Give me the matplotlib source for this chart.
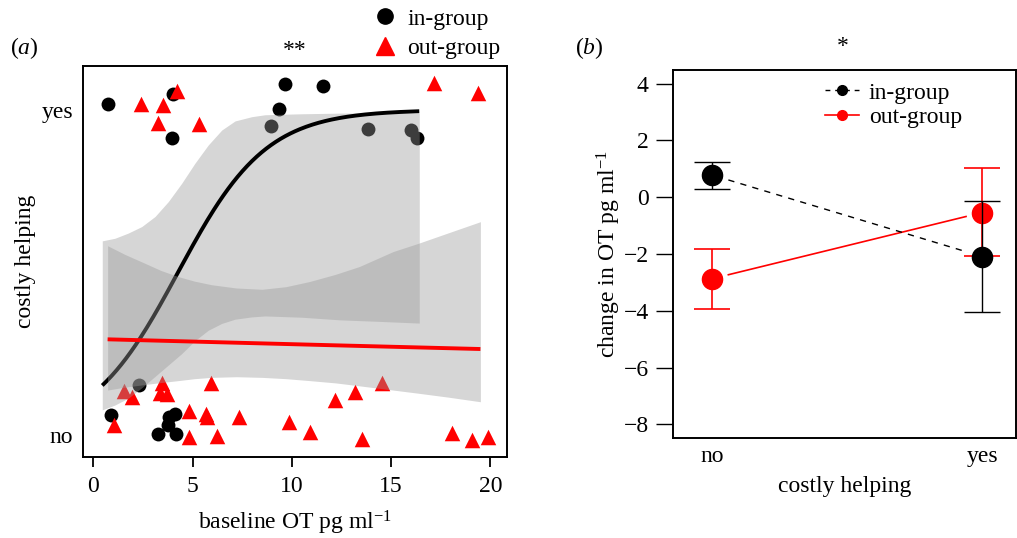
import numpy as np
import matplotlib
matplotlib.use("Agg")
import matplotlib.pyplot as plt
from matplotlib.lines import Line2D

plt.rcParams['font.family'] = ['Liberation Serif', 'DejaVu Serif']
plt.rcParams['mathtext.fontset'] = 'custom'
plt.rcParams['mathtext.rm'] = 'Liberation Serif'
plt.rcParams['mathtext.it'] = 'Liberation Serif:italic'

# ---- panel (a): baseline OT vs costly helping (jittered 0/1) ----
ingroup_ot = [0.73, 4.0, 3.95, 9.67, 11.56, 9.34, 8.95, 13.85, 16.0, 16.29,
              0.89, 2.32, 3.24, 3.76, 3.81, 4.12, 4.17]
ingroup_help = [1.018, 1.048, 0.912, 1.08, 1.072, 1.003, 0.949, 0.941, 0.938, 0.913,
                0.061, 0.153, 0.004, 0.029, 0.055, 0.064, 0.003]
outgroup_ot = [2.42, 3.53, 4.2, 3.27, 5.31, 17.18, 19.38,
               1.02, 1.55, 1.97, 3.44, 3.36, 3.73, 4.8, 4.8, 5.67, 5.71, 5.91, 6.25,
               7.36, 9.84, 10.9, 12.18, 13.18, 14.54, 13.54, 18.07, 19.09, 19.87]
outgroup_help = [1.017, 1.014, 1.058, 0.961, 0.957, 1.084, 1.053,
                 0.031, 0.135, 0.116, 0.159, 0.130, 0.126, 0.072, -0.005, 0.064, 0.056,
                 0.159, -0.003, 0.056, 0.039, 0.010, 0.108, 0.133, 0.161, -0.013,
                 0.005, -0.015, -0.005]

# logistic fits (intercept, slope) and their x ranges
ingroup_coef = (-1.92, 0.45)
ingroup_range = (0.45, 16.42)
outgroup_coef = (-0.870, -0.0079)
outgroup_range = (0.72, 19.5)

# confidence bands
ingroup_band_x = [0.45, 1.09, 1.76, 2.44, 3.11, 3.78, 4.45, 5.12, 5.79, 6.47, 7.14,
                  7.98, 8.65, 10.5, 12.4, 14.5, 16.42]
ingroup_band_hi = [0.597, 0.605, 0.621, 0.641, 0.672, 0.718, 0.774, 0.836, 0.892, 0.938,
                   0.966, 0.979, 0.985, 0.988, 0.99, 0.99, 0.99]
ingroup_band_lo = [0.077, 0.092, 0.113, 0.145, 0.18, 0.215, 0.25, 0.29, 0.322, 0.343,
                   0.356, 0.363, 0.366, 0.362, 0.354, 0.349, 0.344]
outgroup_band_x = [0.72, 1.6, 2.6, 3.4, 4.28, 5.1, 5.96, 7.2, 8.5, 9.7, 10.9, 12.2,
                   13.4, 15.1, 16.4, 17.9, 19.5]
outgroup_band_hi = [0.582, 0.555, 0.528, 0.506, 0.487, 0.473, 0.462, 0.452, 0.448, 0.456,
                    0.472, 0.494, 0.518, 0.564, 0.59, 0.622, 0.656]
outgroup_band_lo = [0.138, 0.147, 0.155, 0.161, 0.167, 0.173, 0.177, 0.179, 0.177, 0.173,
                    0.167, 0.160, 0.151, 0.138, 0.128, 0.116, 0.102]

# ---- panel (b): change in OT by costly helping ----
helping_levels = ['no', 'yes']
ingroup_mean = [0.78, -2.09]
ingroup_upper = [1.25, -0.13]
ingroup_lower = [0.30, -4.05]
outgroup_mean = [-2.87, -0.54]
outgroup_upper = [-1.81, 1.03]
outgroup_lower = [-3.93, -2.07]

W, H = 1017, 538
FS = 17
fig = plt.figure(figsize=(W / 100, H / 100), dpi=100)


def logistic(coef, rng):
    xs = np.linspace(rng[0], rng[1], 200)
    return xs, 1 / (1 + np.exp(-(coef[0] + coef[1] * xs)))


band_col = '#999999'

# panel a
ax_a = fig.add_axes([83 / W, 1 - 457 / H, 424 / W, 391 / H])
ax_a.scatter(ingroup_ot, ingroup_help, s=100, c='black', marker='o', linewidths=0, zorder=2)
ax_a.scatter(outgroup_ot, outgroup_help, s=125, c='red', marker='^', linewidths=0, zorder=2)
ax_a.fill_between(ingroup_band_x, ingroup_band_lo, ingroup_band_hi, color=band_col,
                  alpha=0.4, linewidth=0, zorder=3)
xs, ys = logistic(ingroup_coef, ingroup_range)
ax_a.plot(xs, ys, color='black', lw=2.8, solid_capstyle='butt', zorder=4)
ax_a.fill_between(outgroup_band_x, outgroup_band_lo, outgroup_band_hi, color=band_col,
                  alpha=0.4, linewidth=0, zorder=5)
xs, ys = logistic(outgroup_coef, outgroup_range)
ax_a.plot(xs, ys, color='red', lw=2.8, solid_capstyle='butt', zorder=6)

ax_a.set_xlim(-0.52, 20.84)
ax_a.set_ylim(-0.068, 1.135)
ax_a.set_xticks([0, 5, 10, 15, 20])
ax_a.set_yticks([0, 1])
ax_a.set_yticklabels(helping_levels)
ax_a.tick_params(axis='x', length=7, width=1.3, pad=7, labelsize=FS)
ax_a.tick_params(axis='y', length=0, pad=7, labelsize=FS)
for sp in ax_a.spines.values():
    sp.set_linewidth(1.4)
ax_a.set_xlabel('baseline OT pg ml$^{-1}$', fontsize=FS, labelpad=8)
ax_a.set_ylabel('costly helping', fontsize=FS, labelpad=4)

fig.legend(handles=[Line2D([], [], marker='o', ls='none', color='black', markersize=11),
                    Line2D([], [], marker='^', ls='none', color='red', markersize=13)],
           labels=['in-group', 'out-group'], loc='upper left',
           bbox_to_anchor=(373 / W, 1 - 8 / H), frameon=False, fontsize=FS,
           handlelength=1.0, handletextpad=0.45, labelspacing=0.33,
           borderpad=0, borderaxespad=0)

fig.text(10 / W, 1 - 48 / H, r'($\it{a}$)', fontsize=FS, va='center')
fig.text(295 / W, 1 - 50 / H, '**', fontsize=FS, ha='center', va='center')

# panel b
ax_b = fig.add_axes([673 / W, 1 - 438 / H, 343 / W, 368 / H])
xpos = np.arange(1, len(helping_levels) + 1)


def gapped(ax, x, y, gap, **kw):
    x = np.asarray(x, float)
    y = np.asarray(y, float)
    dx, dy = x[1] - x[0], y[1] - y[0]
    ax.plot([x[0] + gap * dx, x[1] - gap * dx], [y[0] + gap * dy, y[1] - gap * dy], **kw)


out_m = np.array(outgroup_mean)
in_m = np.array(ingroup_mean)
gapped(ax_b, xpos, out_m, 0.06, color='red', lw=1.2, zorder=2)
gapped(ax_b, xpos, in_m, 0.06, color='black', lw=1.0, ls=(0, (4.5, 4.5)), zorder=2)
ax_b.errorbar(xpos, out_m, yerr=[out_m - np.array(outgroup_lower), np.array(outgroup_upper) - out_m],
              fmt='none', ecolor='red', elinewidth=1.2, capsize=13, capthick=1.2, zorder=3)
ax_b.plot(xpos, out_m, 'o', color='red', ms=14.5, zorder=4)
ax_b.errorbar(xpos, in_m, yerr=[in_m - np.array(ingroup_lower), np.array(ingroup_upper) - in_m],
              fmt='none', ecolor='black', elinewidth=1.0, capsize=13, capthick=1.0, zorder=5)
ax_b.plot(xpos, in_m, 'o', color='black', ms=14.5, zorder=6)

ax_b.set_xlim(0.855, 2.125)
ax_b.set_ylim(-8.48, 4.48)
ax_b.set_yticks(np.arange(-8, 5, 2))
ax_b.set_xticks(xpos)
ax_b.set_xticklabels(helping_levels)
ax_b.tick_params(axis='y', length=12.5, width=1.0, pad=5, labelsize=FS)
ax_b.tick_params(axis='x', length=0, pad=6, labelsize=FS)
for sp in ax_b.spines.values():
    sp.set_linewidth(1.4)
ax_b.set_xlabel('costly helping', fontsize=FS, labelpad=6)
ax_b.set_ylabel('change in OT pg ml$^{-1}$', fontsize=FS, labelpad=0)

ax_b.legend(handles=[Line2D([], [], color='black', lw=1.0, ls=(0, (3.5, 3.5)), marker='o', ms=7),
                     Line2D([], [], color='red', lw=1.2, marker='o', ms=7)],
            labels=['in-group', 'out-group'], loc='upper left',
            bbox_to_anchor=((825 - 673) / 343, 1 - 12 / 368), frameon=False, fontsize=FS,
            handlelength=1.45, handletextpad=0.4, labelspacing=0.13,
            borderpad=0, borderaxespad=0)

fig.text(575 / W, 1 - 48 / H, r'($\it{b}$)', fontsize=FS, va='center')
fig.text(843 / W, 1 - 47 / H, '*', fontsize=FS, ha='center', va='center')

fig.savefig('out.png', dpi=100)
